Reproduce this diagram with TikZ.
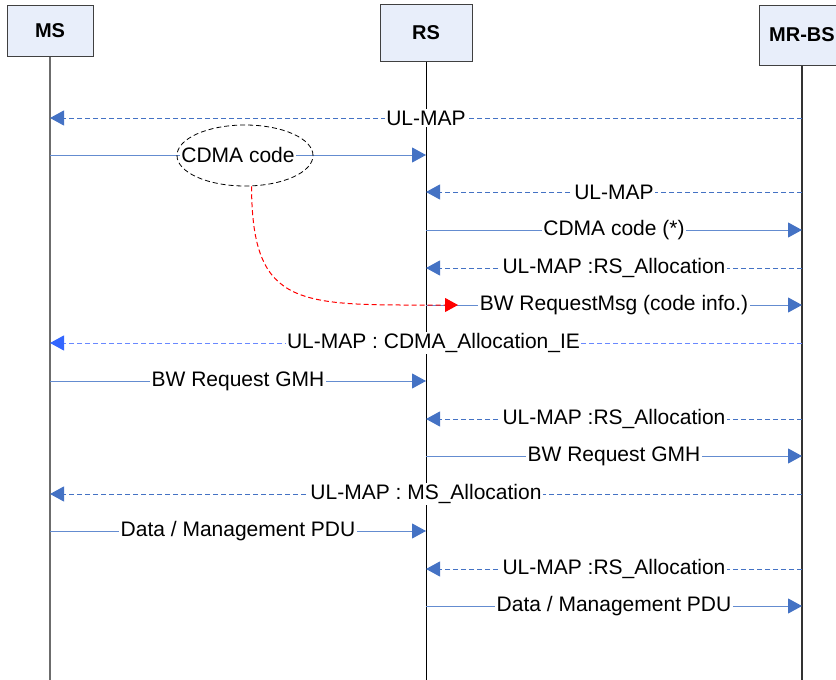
\documentclass[tikz,border=0pt]{standalone}
\usepackage{fontspec}
\setmainfont{Liberation Sans}
\usetikzlibrary{shapes.geometric,arrows.meta}
\definecolor{hdrfill}{RGB}{232,238,250}
\definecolor{hdrline}{RGB}{64,64,64}
\definecolor{msgblue}{RGB}{68,114,196}
\definecolor{msgsolid}{RGB}{100,140,208}
\definecolor{brightblue}{RGB}{51,102,255}
\definecolor{brightdash}{RGB}{105,136,255}
\begin{document}
\begin{tikzpicture}[x=1pt,y=-1pt,
  hdr/.style={draw=hdrline,line width=1pt,fill=hdrfill,font=\fontsize{20}{24}\selectfont\bfseries,inner sep=0pt},
  life/.style={line width=1pt},
  lbl/.style={fill=white,inner sep=1.5pt,font=\fontsize{21}{25}\selectfont,text=black},
  solidmsg/.style={draw=msgsolid,line width=1pt,-{Triangle[length=14pt,width=15pt,fill=msgblue,color=msgblue]}},
  dashmsg/.style={draw=msgblue,line width=1pt,dash pattern=on 5pt off 3pt,-{Triangle[length=14pt,width=15pt,fill=msgblue,color=msgblue]}},
  brightmsg/.style={draw=brightdash,line width=1pt,dash pattern=on 5pt off 3pt,-{Triangle[length=14pt,width=15pt,fill=brightblue,color=brightblue]}},
  redmsg/.style={draw=red,line width=1pt,dash pattern=on 5pt off 3pt,-{Triangle[length=13pt,width=14pt,fill=red,color=red]}},
  ellbox/.style={ellipse,draw=black,line width=0.8pt,dash pattern=on 5pt off 3pt,inner sep=0pt}
]
\useasboundingbox (0,0) rectangle (836,680);
\clip (0,0) rectangle (836,680);

% headers
\node[hdr,minimum width=86pt,minimum height=51pt] (ms) at (50,30.5) {MS};
\node[hdr,minimum width=92pt,minimum height=57pt] (rs) at (426,32.5) {RS};
\node[hdr,minimum width=86pt,minimum height=60pt] (bs) at (802,35) {MR-BS};

% lifelines
\coordinate (msend) at (50,680);
\coordinate (rsend) at (426,680);
\coordinate (bsend) at (802,680);
\draw[life,draw=gray!85!black,line width=1.3pt] (ms.south) -- (msend);
\draw[life,draw=black] (rs.south) -- (rsend);
\draw[life,draw=black!80,line width=1.2pt] (bs.south) -- (bsend);

% coordinates on lifelines
\foreach \n/\y in {1/118,2/155,3/192,4/230,5/268,6/305,7/343,8/381,9/419,10/456,11/494,12/531,13/569,14/606}{
  \coordinate (ms\n) at (50,\y);
  \coordinate (rs\n) at (426,\y);
  \coordinate (bs\n) at (802,\y);
}

% messages
\draw[dashmsg] (bs1) -- node[lbl] {UL-MAP} (ms1);
\draw[solidmsg] (ms2) -- node[lbl] (cdmatxt) {CDMA code} (rs2);
\draw[dashmsg] (bs3) -- node[lbl] {UL-MAP} (rs3);
\draw[solidmsg] (rs4) -- node[lbl] {CDMA code (*)} (bs4);
\draw[dashmsg] (bs5) -- node[lbl] {UL-MAP :RS\_Allocation} (rs5);
\draw[solidmsg] (rs6) -- node[lbl] {BW RequestMsg (code info.)} (bs6);
\draw[brightmsg] (bs7) -- node[lbl,pos=0.49] {UL-MAP : CDMA\_Allocation\_IE} (ms7);
\draw[solidmsg] (ms8) -- node[lbl] {BW Request GMH} (rs8);
\draw[dashmsg] (bs9) -- node[lbl] {UL-MAP :RS\_Allocation} (rs9);
\draw[solidmsg] (rs10) -- node[lbl] {BW Request GMH} (bs10);
\draw[dashmsg] (bs11) -- node[lbl] {UL-MAP : MS\_Allocation} (ms11);
\draw[solidmsg] (ms12) -- node[lbl] {Data / Management PDU} (rs12);
\draw[dashmsg] (bs13) -- node[lbl] {UL-MAP :RS\_Allocation} (rs13);
\draw[solidmsg] (rs14) -- node[lbl] {Data / Management PDU} (bs14);

% ellipse and red link
\node[ellbox,minimum width=136pt,minimum height=61pt] (cdmaell) at (245,155.5) {};
\coordinate (redend) at (458,305);
\draw[redmsg] (cdmaell.-78) .. controls (252,310) and (300,305) .. (redend);
\end{tikzpicture}
\end{document}
